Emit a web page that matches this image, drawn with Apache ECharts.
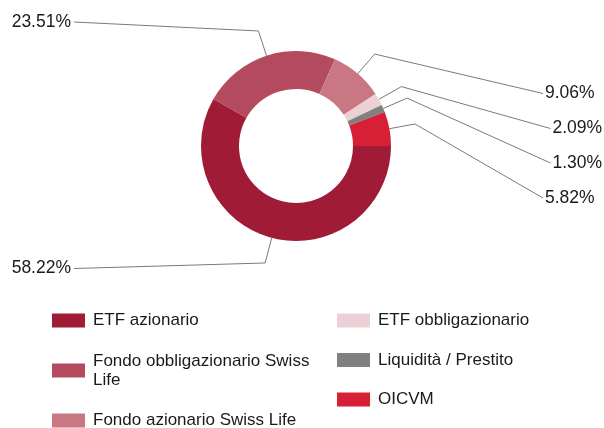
<!DOCTYPE html>
<html>
<head>
<meta charset="utf-8">
<script src="https://cdn.jsdelivr.net/npm/echarts@6/dist/echarts.min.js"></script>
<style>
  html, body { margin: 0; padding: 0; background: #fff; }
  #main { width: 604px; height: 428px; }
</style>
</head>
<body>
<div id="main"></div>
<script>
var categories = ['ETF azionario', 'Fondo obbligazionario Swiss Life', 'Fondo azionario Swiss Life',
  'ETF obbligazionario', 'Liquidità / Prestito', 'OICVM'];
var values = [58.22, 23.51, 9.06, 2.09, 1.30, 5.82];
var colors = ['#a01b36', '#b34a5e', '#c87783', '#edd0d6', '#808080', '#d72035'];

var chartDom = document.getElementById('main');
var myChart = echarts.init(chartDom);
var option;

var font = "'Liberation Sans', Arial, sans-serif";

// where each percentage label sits (x, y, align)
function placeLabel(params) {
  var spots = [
    [71, 268.5, 'right'],
    [71, 22, 'right'],
    [545, 93.5, 'left'],
    [552.5, 128.5, 'left'],
    [552.5, 163, 'left'],
    [545, 198, 'left']
  ];
  var s = spots[params.dataIndex];
  var res = { x: s[0], y: s[1], align: s[2], verticalAlign: 'middle' };
  var pts = params.labelLinePoints;
  if (pts && pts.length >= 2) {
    var endX = s[2] === 'right' ? s[0] + 3 : s[0] - 2;
    res.labelLinePoints = [pts[0], pts[1], [endX, s[1]]];
  }
  return res;
}

var legendBase = {
  orient: 'vertical',
  top: 311,
  height: 200,
  padding: 0,
  itemGap: 21,
  itemWidth: 33,
  itemHeight: 14,
  icon: 'rect',
  selectedMode: false,
  textStyle: {
    fontFamily: font,
    fontSize: 17,
    color: '#1a1a1a',
    lineHeight: 19,
    width: 235,
    overflow: 'break',
    padding: [0, 0, 0, 3]
  }
};

option = {
  animation: false,
  color: colors,
  legend: [
    Object.assign({}, legendBase, { left: 52, itemGap: 21.5, data: categories.slice(0, 3) }),
    Object.assign({}, legendBase, { left: 337, itemGap: 20.5, data: categories.slice(3) })
  ],
  series: [
    {
      type: 'pie',
      center: [296, 146],
      radius: [57, 95],
      startAngle: 0,
      clockwise: true,
      avoidLabelOverlap: false,
      label: {
        show: true,
        position: 'outside',
        fontFamily: font,
        fontSize: 17.5,
        color: '#1a1a1a',
        formatter: function (p) { return p.value.toFixed(2) + '%'; }
      },
      labelLine: {
        show: true,
        length: 26,
        length2: 10,
        lineStyle: { color: '#7a7a7a', width: 1 }
      },
      labelLayout: placeLabel,
      emphasis: { disabled: true },
      data: categories.map(function (name, i) {
        return { name: name, value: values[i] };
      })
    }
  ]
};

option && myChart.setOption(option);
</script>
</body>
</html>
